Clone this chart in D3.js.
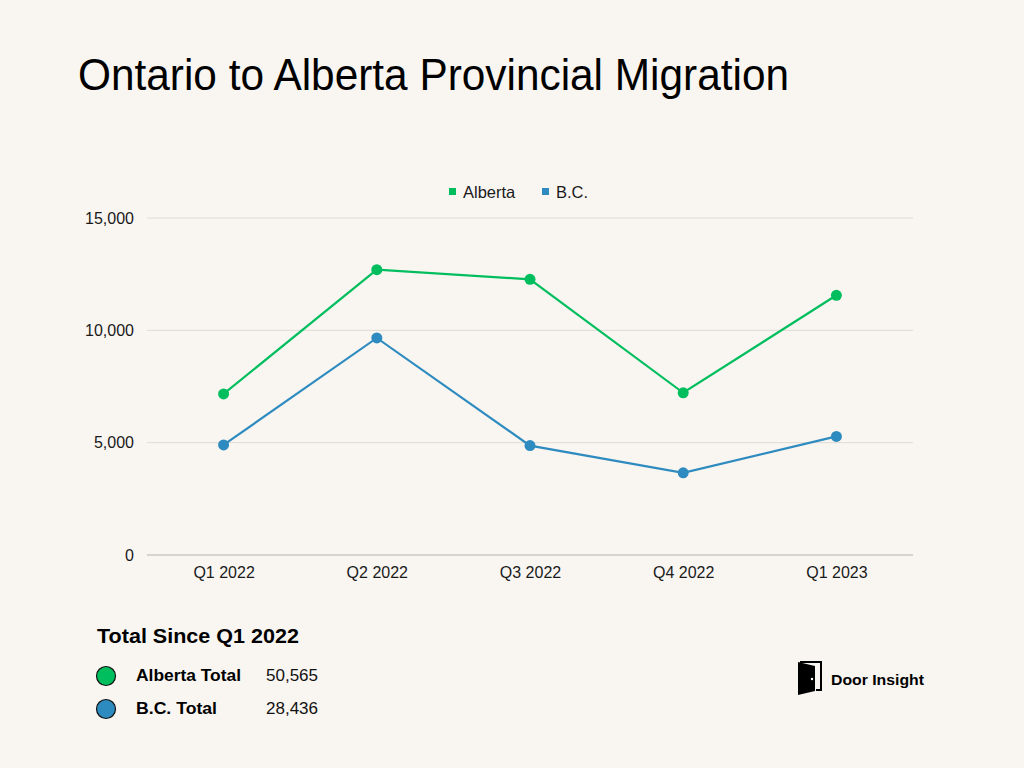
<!DOCTYPE html>
<html><head><meta charset="utf-8">
<script src="https://cdn.jsdelivr.net/npm/d3@7"></script>
<style>
html,body{margin:0;padding:0;background:#f9f6f2;}
svg{display:block;font-family:"Liberation Sans",Arial,sans-serif;}
</style></head>
<body><svg id="c" width="1024" height="768"></svg>
<script>
const categories = ["Q1 2022","Q2 2022","Q3 2022","Q4 2022","Q1 2023"];
const albertaValues = [7170, 12700, 12270, 7220, 11560];
const bcValues = [4900, 9660, 4870, 3660, 5280];
const yTicks = [0, 5000, 10000, 15000];
const seriesNames = ["Alberta", "B.C."];
const seriesColors = ["#00be5e", "#2e8bbf"];
const totalLabels = ["Alberta Total", "B.C. Total"];
const totalValues = ["50,565", "28,436"];

const svg = d3.select("#c");
svg.append("rect").attr("width",1024).attr("height",768).attr("fill","#f9f6f2");

svg.append("text").attr("x",78).attr("y",90)
  .attr("font-size",44).attr("fill","#000")
  .attr("textLength",711).attr("lengthAdjust","spacingAndGlyphs")
  .text("Ontario to Alberta Provincial Migration");

const plotL=147, plotR=913, plotT=218, plotB=555;
const x = d3.scalePoint().domain(categories).range([plotL,plotR]).padding(0.5);
const y = d3.scaleLinear().domain([0,15000]).range([plotB,plotT]);

// gridlines
svg.append("g").selectAll("line").data(yTicks).join("line")
  .attr("x1",plotL).attr("x2",plotR)
  .attr("y1",d=>y(d)).attr("y2",d=>y(d))
  .attr("stroke",d=>d===0?"#b5b1aa":"#dedad4").attr("stroke-width",1);

// y axis
const yAxis = svg.append("g").attr("transform",`translate(${plotL},0)`)
  .call(d3.axisLeft(y).tickValues(yTicks).tickFormat(d3.format(",")).tickSize(0).tickPadding(13));
yAxis.select(".domain").remove();
yAxis.selectAll("text").attr("font-size",16).attr("fill","#1a1a1a").attr("font-family","Liberation Sans, Arial, sans-serif");

// x axis
const xAxis = svg.append("g").attr("transform",`translate(0,${plotB})`)
  .call(d3.axisBottom(x).tickSize(0).tickPadding(12));
xAxis.select(".domain").remove();
xAxis.selectAll("text").attr("font-size",16).attr("fill","#1a1a1a").attr("font-family","Liberation Sans, Arial, sans-serif");

const series = [albertaValues, bcValues];
const line = d3.line().x((d,i)=>x(categories[i])).y(d=>y(d));
series.forEach((vals,si)=>{
  svg.append("path").datum(vals).attr("d",line)
    .attr("fill","none").attr("stroke",seriesColors[si]).attr("stroke-width",2.2);
  svg.append("g").selectAll("circle").data(vals).join("circle")
    .attr("cx",(d,i)=>x(categories[i])).attr("cy",d=>y(d)).attr("r",5.5)
    .attr("fill",seriesColors[si]);
});

// legend
const legendX = [449, 542];
seriesNames.forEach((n,i)=>{
  svg.append("rect").attr("x",legendX[i]).attr("y",188).attr("width",7).attr("height",7).attr("fill",seriesColors[i]);
  svg.append("text").attr("x",legendX[i]+14).attr("y",197.5).attr("font-size",16.5).attr("fill","#1a1a1a").text(n);
});

// totals
svg.append("text").attr("x",97).attr("y",643).attr("font-size",19.5).attr("font-weight","bold").attr("fill","#000")
  .attr("textLength",202).attr("lengthAdjust","spacingAndGlyphs").text("Total Since Q1 2022");
const rowY = [676, 709];
const labelLens = [105, 81];
totalLabels.forEach((t,i)=>{
  svg.append("circle").attr("cx",106).attr("cy",rowY[i]).attr("r",9.5).attr("fill",seriesColors[i]).attr("stroke","#111").attr("stroke-width",1.2);
  svg.append("text").attr("x",136).attr("y",rowY[i]+5).attr("font-size",16).attr("font-weight","bold").attr("fill","#000")
    .attr("textLength",labelLens[i]).attr("lengthAdjust","spacingAndGlyphs").text(t);
  svg.append("text").attr("x",266).attr("y",rowY[i]+5).attr("font-size",16).attr("fill","#111")
    .attr("textLength",52).attr("lengthAdjust","spacingAndGlyphs").text(totalValues[i]);
});

// logo
const logo = svg.append("g");
logo.append("path").attr("d","M798,662 L815,666 L815,691 L798,695 Z").attr("fill","#000");
logo.append("path").attr("d","M800,662 L821,662 L821,690 L816,690").attr("fill","none").attr("stroke","#000").attr("stroke-width",2);
logo.append("circle").attr("cx",812).attr("cy",679).attr("r",1.2).attr("fill","#fff");
logo.append("text").attr("x",831).attr("y",685).attr("font-size",15).attr("font-weight","bold").attr("fill","#000")
  .attr("textLength",93).attr("lengthAdjust","spacingAndGlyphs").text("Door Insight");
</script></body></html>
